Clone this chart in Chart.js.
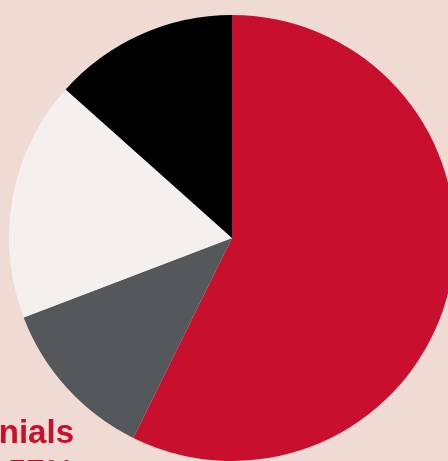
<!DOCTYPE html>
<html>
<head>
<meta charset="utf-8">
<script src="https://cdn.jsdelivr.net/npm/chart.js@4"></script>
<style>
  html, body { margin: 0; padding: 0; }
  body { width: 448px; height: 461px; background: #EFDBD4; overflow: hidden; position: relative; }
  #wrap { position: absolute; left: 9px; top: 15px; width: 446px; height: 446px; }
  .rotulo { position: absolute; right: 374px; font-family: "Liberation Sans", Arial, sans-serif; font-weight: bold; font-size: 33px; line-height: 33px; color: #C8102E; white-space: nowrap; }
</style>
</head>
<body>
<div id="wrap"><canvas id="myChart" width="446" height="446"></canvas></div>
<div class="rotulo" style="top:415px">Millennials</div>
<div class="rotulo" style="top:455px">57%</div>
<script>
var geracoes = ['Millennials', 'Gen X', 'Baby Boomers', 'Gen Z'];
var valores = [57.3, 11.9, 17.4, 13.4];
var cores = ['#C8102E', '#54585A', '#F4F0EE', '#000000'];

graficoPizza()

function graficoPizza(){ // pizza sem legenda, ocupa o canvas todo
const ctx = document.getElementById('myChart').getContext('2d');
const myChart = new Chart(ctx, {
    type: 'pie',
    data: {
        labels: geracoes,
        datasets: [{
            data: valores,
            backgroundColor: cores,
            borderWidth: 0
        }]
    },
    options: {
        responsive: false,
        animation: false,
        layout: { padding: 0 },
        plugins: {
            legend: { display: false },
            tooltip: { enabled: false }
        }
    }
});
}
</script>
</body>
</html>
